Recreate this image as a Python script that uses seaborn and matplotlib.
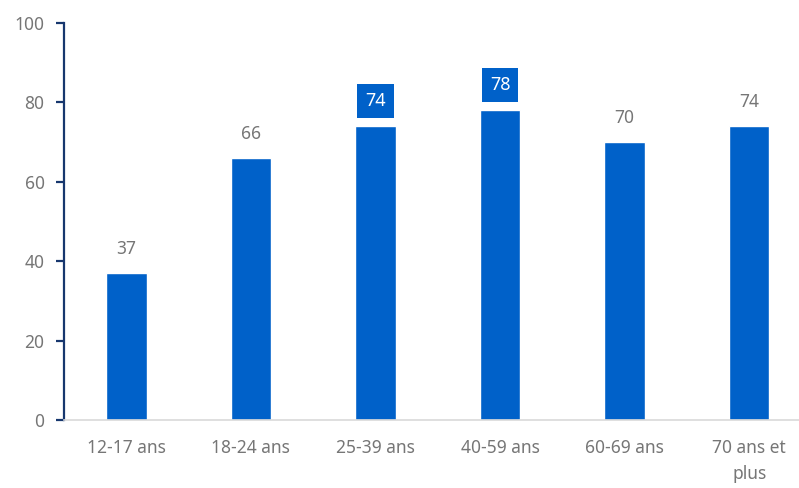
import matplotlib
matplotlib.use("Agg")
import matplotlib.pyplot as plt
import seaborn as sns
import pandas as pd

categories = ["12-17 ans", "18-24 ans", "25-39 ans", "40-59 ans", "60-69 ans", "70 ans et\nplus"]
values = [37, 66, 74, 78, 70, 74]
highlight = [False, False, True, True, False, False]
yticks = [0, 20, 40, 60, 80, 100]

sns.set_style("white")
plt.rcParams['font.family'] = ['Noto Sans', 'DejaVu Sans']

BLUE = "#0061c9"
GRAY = "#767676"
NAVY = "#17376e"

df = pd.DataFrame({"cat": categories, "val": values})

fig = plt.figure(figsize=(7.99, 4.88), dpi=100)
ax = fig.add_axes([64/799, 1-420/488, 1-64/799, (420-23)/488])
sns.barplot(data=df, x="cat", y="val", color=BLUE, width=0.325, saturation=1, ax=ax)

ax.set_ylim(0, 100)
ax.set_xlim(-0.5, 5.4)
ax.set_yticks(yticks)
ax.set_xlabel("")
ax.set_ylabel("")

for s in ["top", "right"]:
    ax.spines[s].set_visible(False)
ax.spines["left"].set_color(NAVY)
ax.spines["left"].set_linewidth(1.6)
ax.spines["bottom"].set_color("#d9d9d9")
ax.spines["bottom"].set_linewidth(1.2)
ax.yaxis.set_tick_params(left=True)
ax.tick_params(axis="y", which="major", direction="out", length=6, width=1.6, color=NAVY,
               labelsize=12.5, labelcolor=GRAY, pad=8)
ax.tick_params(axis="x", length=0, labelsize=12.5, labelcolor=GRAY, pad=14)
for lbl in ax.get_xticklabels():
    lbl.set_linespacing(1.55)

for i, (v, h) in enumerate(zip(values, highlight)):
    if h:
        ax.text(i, v + 6.3, str(v), ha="center", va="center", fontsize=13, fontweight="bold",
                color="white",
                bbox=dict(boxstyle="square,pad=0.45", facecolor=BLUE, edgecolor="none"))
    else:
        ax.text(i, v + 3.8, str(v), ha="center", va="bottom", fontsize=12.5, color=GRAY)

fig.savefig("out.png", dpi=100)
